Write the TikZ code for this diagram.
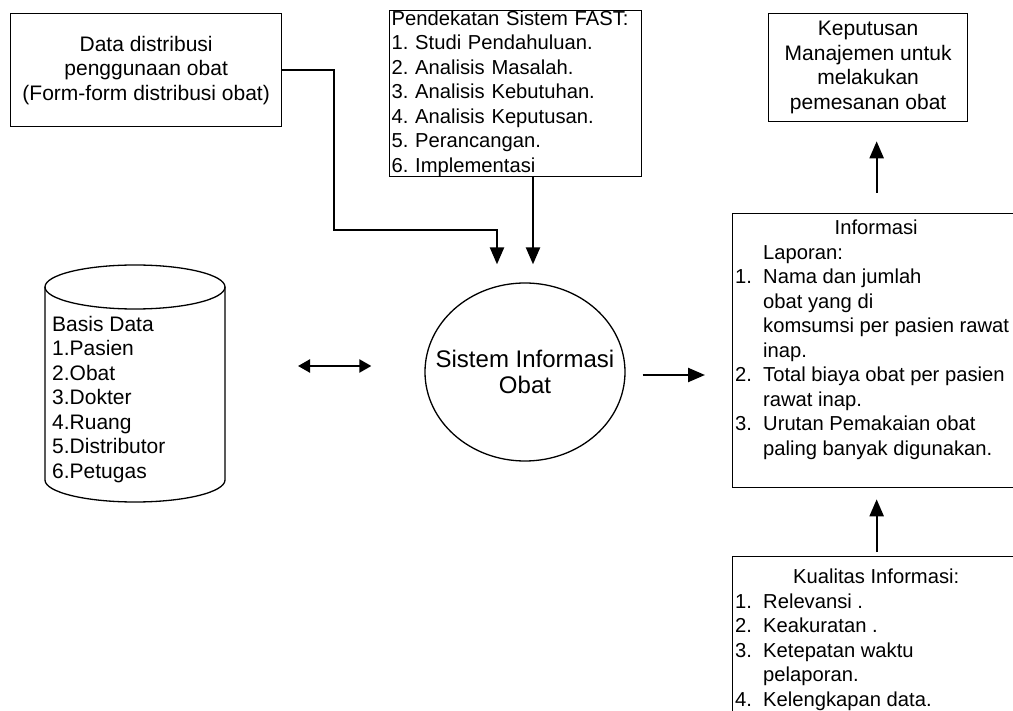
\documentclass[tikz,border=0pt]{standalone}
\usepackage{fontspec}
\setmainfont{Liberation Sans}
\usetikzlibrary{arrows.meta,positioning,shapes.geometric}

\tikzset{
  txt/.style={font=\fontsize{21}{24.5}\selectfont\frenchspacing},
  small/.style={font=\fontsize{20.2}{24.5}\selectfont\frenchspacing},
  box/.style={draw, line width=1.3pt, inner sep=0pt},
  arr/.style={line width=2.3pt, -{Triangle[length=17pt,width=14pt]}},
  dbl/.style={line width=2.3pt, {Triangle[length=12pt,width=13pt]}-{Triangle[length=12pt,width=13pt]}},
}
\newcommand{\num}[1]{\makebox[28pt][l]{#1}}
\newcommand{\ind}{\hspace*{28pt}}

\begin{document}
\begin{tikzpicture}[x=1pt, y=-1pt, every node/.style={txt}]
    \useasboundingbox (0,0) rectangle (1013,711);

    % data distribusi
    \node[box, minimum width=271pt, minimum height=113pt, align=center, anchor=north west] (data) at (10,13)
        {Data distribusi\\penggunaan obat\\(Form-form distribusi obat)};

    % pendekatan FAST
    \node[box, small, minimum width=252pt, minimum height=165pt, text width=248pt, inner xsep=2pt, align=left,
          anchor=north west] (fast) at (389,10)
        {Pendekatan Sistem FAST:\\1. Studi Pendahuluan.\\2. Analisis Masalah.\\3. Analisis Kebutuhan.\\
         4. Analisis Keputusan.\\5. Perancangan.\\6. Implementasi};

    % keputusan
    \node[box, minimum width=199pt, minimum height=108pt, align=center, anchor=north west] (kep) at (768,13)
        {Keputusan\\Manajemen untuk\\melakukan\\pemesanan obat};

    % basis data
    \draw[line width=1.3pt] (135,287) ellipse [x radius=90, y radius=22];
    \draw[line width=1.3pt] (45,287) -- (45,480) arc[start angle=180, end angle=0, x radius=90, y radius=22] -- (225,287);
    \node[anchor=north west, inner sep=0pt, align=left] (db) at (52,316)
        {Basis Data\\1.Pasien\\2.Obat\\3.Dokter\\4.Ruang\\5.Distributor\\6.Petugas};
    \coordinate (dbr) at (225,366);

    % sistem informasi
    \node[draw, ellipse, line width=1.3pt, minimum width=200pt, minimum height=178pt] (sio) at (525,372) {};
    \node[align=center, font=\fontsize{24}{26.5}\selectfont] (siotxt) at (sio.center) {Sistem Informasi\\Obat};

    % informasi
    \node[box, minimum width=288pt, minimum height=274pt, anchor=north west] (info) at (732,213) {};
    \node[small, anchor=north west, inner sep=0pt, align=left] (infotxt) at (735,220)
        {\makebox[282pt][c]{Informasi}\\\ind Laporan:\\\num{1.}Nama dan jumlah\\\ind obat yang di\\
         \ind komsumsi per pasien rawat\\\ind inap.\\\num{2.}Total biaya obat per pasien\\\ind rawat inap.\\
         \num{3.}Urutan Pemakaian obat\\\ind paling banyak digunakan.};

    % kualitas informasi
    \node[box, minimum width=288pt, minimum height=200pt, anchor=north west] (kual) at (732,556) {};
    \node[small, anchor=north west, inner sep=0pt, align=left] (kualtxt) at (735,569)
        {\makebox[282pt][c]{Kualitas Informasi:}\\\num{1.}Relevansi .\\\num{2.}Keakuratan .\\
         \num{3.}Ketepatan waktu\\\ind pelaporan.\\\num{4.}Kelengkapan data.};

    % connections into the system
    \coordinate (bend) at (334,230);
    \coordinate (inL) at ([xshift=-28pt]sio.north);
    \coordinate (inR) at ([xshift=8pt]sio.north);
    \draw[arr, shorten >=18pt] (data.east) -| (bend) -| (inL);
    \draw[arr, shorten >=18pt] (fast.south -| inR) -- (inR);
    \draw[dbl, shorten <=73pt, shorten >=53pt] (dbr) -- (dbr -| sio.west);

    % connections out of the system
    \draw[arr, shorten <=17pt, shorten >=27pt] ([yshift=-3pt]sio.east) -- ([yshift=-3pt]sio.east -| info.west);
    \draw[arr, shorten <=20pt, shorten >=19pt] (info.north) -- (info.north |- kep.south);
    \draw[arr, shorten <=4pt, shorten >=11pt] (kual.north) -- (info.south);
\end{tikzpicture}
\end{document}
